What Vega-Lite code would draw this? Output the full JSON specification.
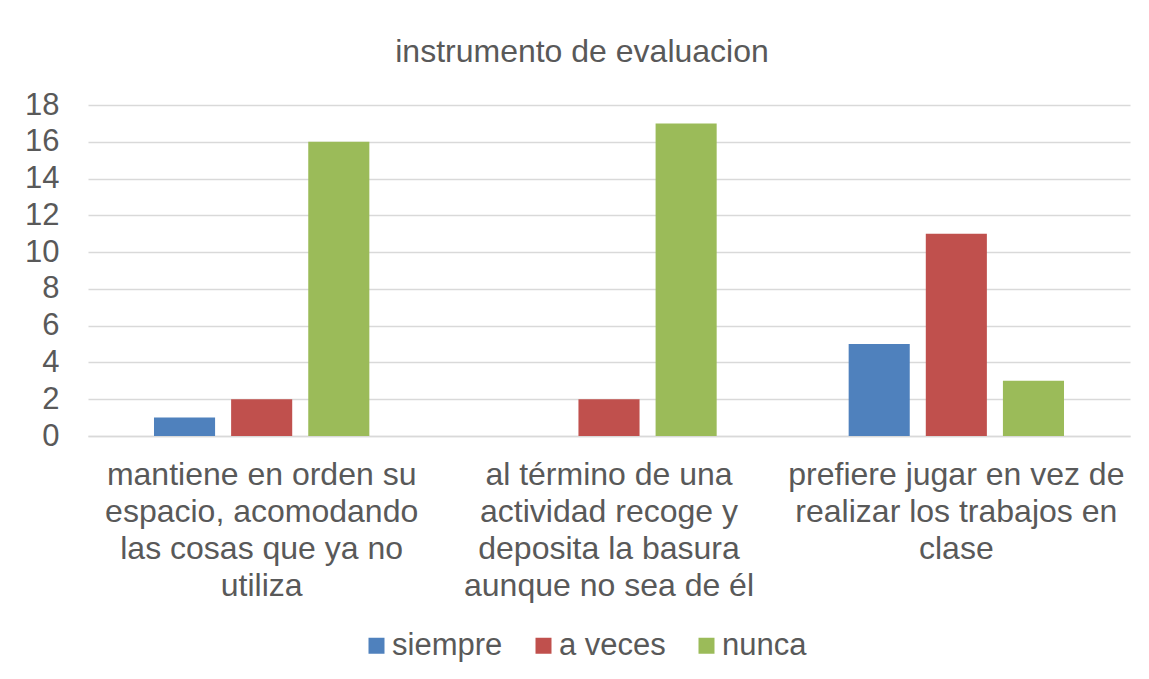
{
  "$schema": "https://vega.github.io/schema/vega-lite/v6.json",
  "width": 1042,
  "height": 331,
  "autosize": {"type": "none"},
  "padding": {"left": 88, "top": 105, "right": 19, "bottom": 243},
  "background": "white",
  "title": {
    "text": "instrumento de evaluacion",
    "font": "Liberation Sans",
    "fontSize": 32,
    "fontWeight": "normal",
    "color": "#595959",
    "anchor": "middle",
    "offset": 20,
    "dx": -27
  },
  "data": {
    "values": [
      {"item": "mantiene en orden su espacio, acomodando las cosas que ya no utiliza", "respuesta": "siempre", "valor": 1},
      {"item": "mantiene en orden su espacio, acomodando las cosas que ya no utiliza", "respuesta": "a veces", "valor": 2},
      {"item": "mantiene en orden su espacio, acomodando las cosas que ya no utiliza", "respuesta": "nunca", "valor": 16},
      {"item": "al término de una actividad recoge y deposita la basura aunque no sea de él", "respuesta": "siempre", "valor": 0},
      {"item": "al término de una actividad recoge y deposita la basura aunque no sea de él", "respuesta": "a veces", "valor": 2},
      {"item": "al término de una actividad recoge y deposita la basura aunque no sea de él", "respuesta": "nunca", "valor": 17},
      {"item": "prefiere jugar en vez de realizar los trabajos en clase", "respuesta": "siempre", "valor": 5},
      {"item": "prefiere jugar en vez de realizar los trabajos en clase", "respuesta": "a veces", "valor": 11},
      {"item": "prefiere jugar en vez de realizar los trabajos en clase", "respuesta": "nunca", "valor": 3}
    ]
  },
  "mark": {"type": "bar"},
  "encoding": {
    "x": {
      "field": "item",
      "type": "nominal",
      "sort": null,
      "scale": {"paddingInner": 0.38, "paddingOuter": 0.19},
      "axis": {
        "title": null,
        "labelAngle": 0,
        "labelFont": "Liberation Sans",
        "labelFontSize": 32,
        "labelColor": "#595959",
        "labelPadding": 23,
        "labelLineHeight": 37,
        "labelBaseline": "top",
        "labelLimit": 0,
        "ticks": false,
        "domainColor": "#d9d9d9",
        "domainWidth": 1.5,
        "labelExpr": "datum.value == 'mantiene en orden su espacio, acomodando las cosas que ya no utiliza' ? ['mantiene en orden su', 'espacio, acomodando', 'las cosas que ya no', 'utiliza'] : datum.value == 'al término de una actividad recoge y deposita la basura aunque no sea de él' ? ['al término de una', 'actividad recoge y', 'deposita la basura', 'aunque no sea de él'] : ['prefiere jugar en vez de', 'realizar los trabajos en', 'clase']"
      }
    },
    "xOffset": {
      "field": "respuesta",
      "type": "nominal",
      "sort": ["siempre", "a veces", "nunca"],
      "scale": {"paddingInner": 0.208, "paddingOuter": 0}
    },
    "y": {
      "field": "valor",
      "type": "quantitative",
      "scale": {"domain": [0, 18]},
      "axis": {
        "title": null,
        "values": [0, 2, 4, 6, 8, 10, 12, 14, 16, 18],
        "labelFont": "Liberation Sans",
        "labelFontSize": 31,
        "labelColor": "#595959",
        "labelPadding": 29,
        "ticks": false,
        "domain": false,
        "gridColor": "#d9d9d9",
        "gridWidth": 1.5
      }
    },
    "color": {
      "field": "respuesta",
      "type": "nominal",
      "scale": {"domain": ["siempre", "a veces", "nunca"], "range": ["#4F81BD", "#C0504D", "#9BBB59"]},
      "legend": {
        "title": null,
        "orient": "none",
        "legendX": 273,
        "legendY": 525,
        "direction": "horizontal",
        "columns": 3,
        "columnPadding": 25,
        "symbolType": "square",
        "symbolSize": 256,
        "symbolStrokeWidth": 0,
        "labelFont": "Liberation Sans",
        "labelFontSize": 31,
        "labelColor": "#595959",
        "labelOffset": 0
      }
    }
  },
  "config": {"view": {"stroke": null}}
}
